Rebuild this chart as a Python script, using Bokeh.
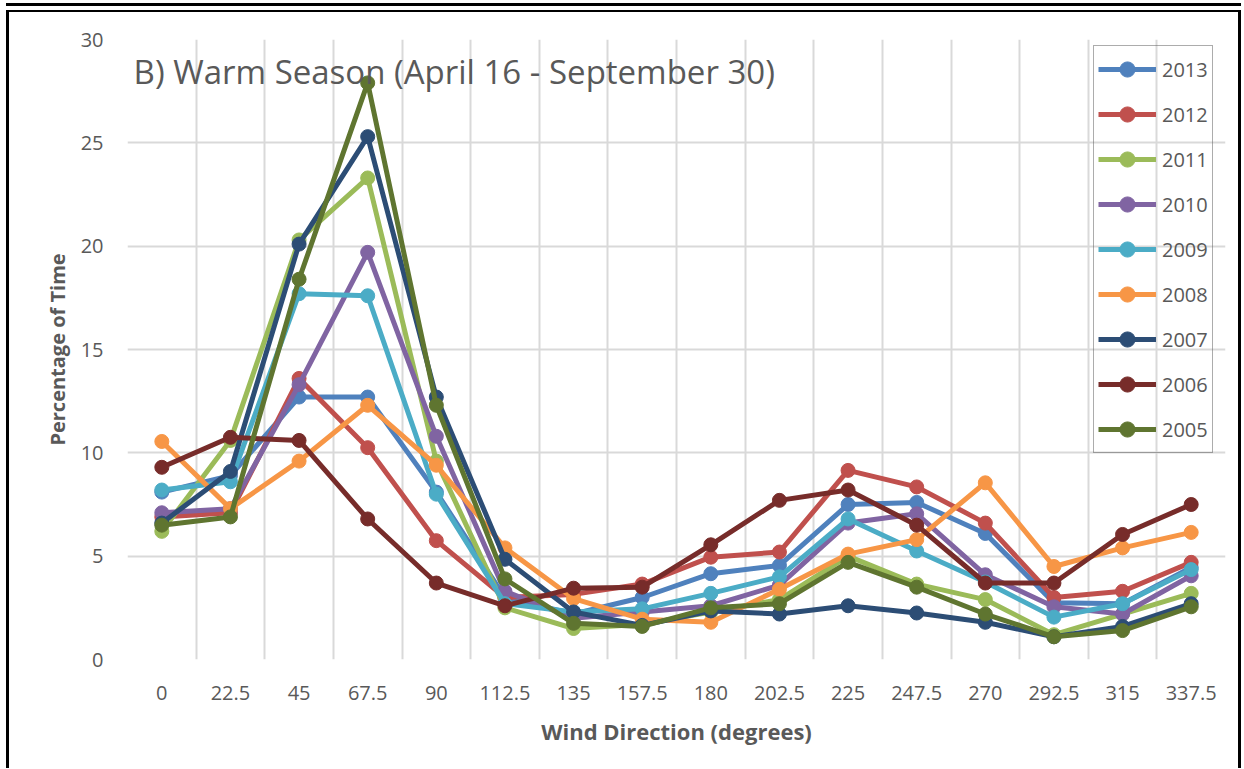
from bokeh.plotting import figure
from bokeh.models import Range1d, FixedTicker, Label, Legend, LegendItem
from bokeh.embed import file_html
from bokeh.resources import INLINE

directions = [0, 22.5, 45, 67.5, 90, 112.5, 135, 157.5, 180, 202.5, 225, 247.5, 270, 292.5, 315, 337.5]
direction_labels = ["0", "22.5", "45", "67.5", "90", "112.5", "135", "157.5", "180", "202.5", "225", "247.5", "270", "292.5", "315", "337.5"]

y2013 = [8.1, 8.9, 12.7, 12.7, 8.1, 3.0, 2.2, 3.0, 4.15, 4.55, 7.5, 7.6, 6.1, 2.75, 2.7, 4.45]
y2012 = [6.9, 7.1, 13.6, 10.25, 5.75, 3.0, 3.15, 3.65, 4.95, 5.2, 9.15, 8.35, 6.6, 3.0, 3.3, 4.7]
y2011 = [6.2, 10.6, 20.3, 23.3, 9.6, 2.5, 1.5, 1.7, 2.3, 2.9, 5.0, 3.65, 2.9, 1.2, 2.2, 3.2]
y2010 = [7.1, 7.3, 13.3, 19.7, 10.8, 3.3, 2.0, 2.3, 2.6, 3.6, 6.6, 7.05, 4.1, 2.55, 2.2, 4.05]
y2009 = [8.2, 8.6, 17.7, 17.6, 8.0, 2.7, 2.3, 2.45, 3.2, 4.0, 6.8, 5.25, 3.75, 2.05, 2.7, 4.35]
y2008 = [10.55, 7.3, 9.6, 12.3, 9.4, 5.4, 2.95, 1.95, 1.8, 3.4, 5.1, 5.8, 8.55, 4.5, 5.4, 6.15]
y2007 = [6.6, 9.1, 20.1, 25.3, 12.7, 4.85, 2.3, 1.65, 2.35, 2.2, 2.6, 2.25, 1.8, 1.1, 1.6, 2.7]
y2006 = [9.3, 10.75, 10.6, 6.8, 3.7, 2.6, 3.45, 3.5, 5.55, 7.7, 8.2, 6.5, 3.7, 3.7, 6.05, 7.5]
y2005 = [6.5, 6.9, 18.4, 27.9, 12.3, 3.9, 1.75, 1.6, 2.5, 2.7, 4.7, 3.5, 2.2, 1.1, 1.4, 2.55]

years = ["2013", "2012", "2011", "2010", "2009", "2008", "2007", "2006", "2005"]
series = [y2013, y2012, y2011, y2010, y2009, y2008, y2007, y2006, y2005]
colors = ["#4F81BD", "#C0504D", "#9BBB59", "#8064A2", "#4BACC6", "#F79646", "#2C4D75", "#772C2A", "#5F7530"]

title_text = "B) Warm Season (April 16 - September 30)"
FONT = "Open Sans"
TXT = "#595959"

step = directions[1] - directions[0]
p = figure(
    frame_width=1098, frame_height=620,
    min_border_left=118, min_border_top=27, min_border_right=13, min_border_bottom=109,
    x_range=Range1d(directions[0] - step / 2, directions[-1] + step / 2),
    y_range=Range1d(0, 30),
    output_backend="svg", toolbar_location=None,
    background_fill_color="white", border_fill_color="white",
)
p.outline_line_color = None
p.styles = {"margin-left": "6px", "margin-top": "10px",
            "border-left": "3px solid black", "border-right": "3px solid black",
            "border-top": "2px solid black",
            "box-shadow": "0 -4px 0 0 white, 0 -7px 0 0 black"}

# axes
p.xaxis.ticker = FixedTicker(ticks=directions)
p.xaxis.major_label_overrides = {d: l for d, l in zip(directions, direction_labels)}
p.yaxis.ticker = FixedTicker(ticks=[0, 5, 10, 15, 20, 25, 30])
for ax in (p.xaxis[0], p.yaxis[0]):
    ax.axis_line_color = None
    ax.major_tick_line_color = None
    ax.minor_tick_line_color = None
    ax.major_label_text_font = FONT
    ax.major_label_text_font_size = "20px"
    ax.major_label_text_color = TXT
    ax.axis_label_text_font = FONT
    ax.axis_label_text_font_style = "bold"
    ax.axis_label_text_color = TXT
p.xaxis.axis_label_text_font_size = "22px"
p.yaxis.axis_label_text_font_size = "20px"
p.xaxis.major_label_standoff = 20
p.yaxis.major_label_standoff = 18
p.xaxis.axis_label = "Wind Direction (degrees)"
p.yaxis.axis_label = "Percentage of Time"
p.xaxis.axis_label_standoff = 13
p.yaxis.axis_label_standoff = 7

# grids
p.xgrid.ticker = FixedTicker(ticks=[d - step / 2 for d in directions] + [directions[-1] + step / 2])
p.ygrid.ticker = FixedTicker(ticks=[0, 5, 10, 15, 20, 25, 30])
for g in (p.xgrid[0], p.ygrid[0]):
    g.grid_line_color = "#D9D9D9"
    g.grid_line_width = 2

items = []
for yr, ys, c in zip(years, series, colors):
    r1 = p.line(directions, ys, line_color=c, line_width=5)
    r2 = p.scatter(directions, ys, size=14, fill_color=c, line_color=c)
    items.append(LegendItem(label=yr, renderers=[r1, r2]))

legend = Legend(items=items, location=(966, 206))
legend.margin = 0
legend.padding = 4
legend.spacing = 7
legend.glyph_width = 58
legend.glyph_height = 38
legend.label_height = 24
legend.label_standoff = 6
legend.label_text_font = FONT
legend.label_text_font_size = "20px"
legend.label_text_color = TXT
legend.border_line_color = "#595959"
legend.border_line_width = 1
legend.background_fill_alpha = 0
p.add_layout(legend, "center")

p.add_layout(Label(x=directions[0] - step / 2 + 2.0, y=28.45, text=title_text,
                   text_font=FONT, text_font_size="33px", text_color=TXT,
                   text_baseline="middle", text_align="left"))

open("out.html", "w").write(file_html(p, INLINE))
